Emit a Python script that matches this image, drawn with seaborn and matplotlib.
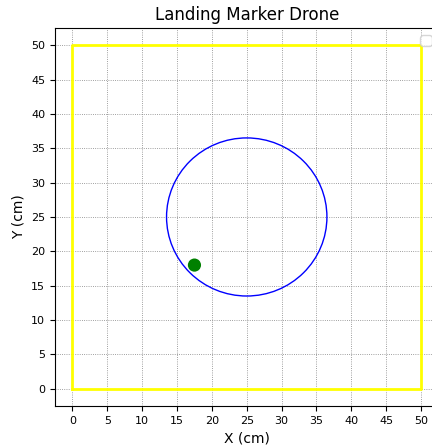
import matplotlib
matplotlib.use("Agg")
import matplotlib.pyplot as plt
import seaborn as sns
import pandas as pd
from matplotlib.patches import Circle

# Data
square_x = [0, 50, 50, 0, 0]
square_y = [0, 0, 50, 50, 0]
circle_center = (25, 25)
circle_radius = 11.5
drone_x = [17.5]
drone_y = [18]
x_ticks = list(range(0, 55, 5))
y_ticks = list(range(0, 55, 5))

fig = plt.figure(figsize=(4.32, 4.48), dpi=100)
ax = fig.add_axes([0.1273, 0.0938, 0.8877, 0.8438])

sq = pd.DataFrame({"x": square_x, "y": square_y, "o": range(len(square_x))})
sns.lineplot(data=sq, x="x", y="y", sort=False, estimator=None, color="yellow",
             linewidth=2, ax=ax, zorder=3)
ax.add_patch(Circle(circle_center, circle_radius, fill=False, edgecolor="blue",
                    linewidth=1, zorder=3))
pt = pd.DataFrame({"x": drone_x, "y": drone_y})
sns.scatterplot(data=pt, x="x", y="y", color="green", s=90, edgecolor="none",
                ax=ax, zorder=4)

ax.set_xlim(-2.5, 52.5)
ax.set_ylim(-2.5, 52.5)
ax.set_xticks(x_ticks)
ax.set_yticks(y_ticks)
ax.tick_params(labelsize=8)
ax.grid(True, color="gray", linestyle=":", linewidth=0.6)
ax.set_axisbelow(True)
ax.set_title("Landing Marker Drone", fontsize=12)
ax.set_xlabel("X (cm)", fontsize=10)
ax.set_ylabel("Y (cm)", fontsize=10)
ax.legend(handles=[], loc="upper right")

fig.savefig("out.png", dpi=100)
